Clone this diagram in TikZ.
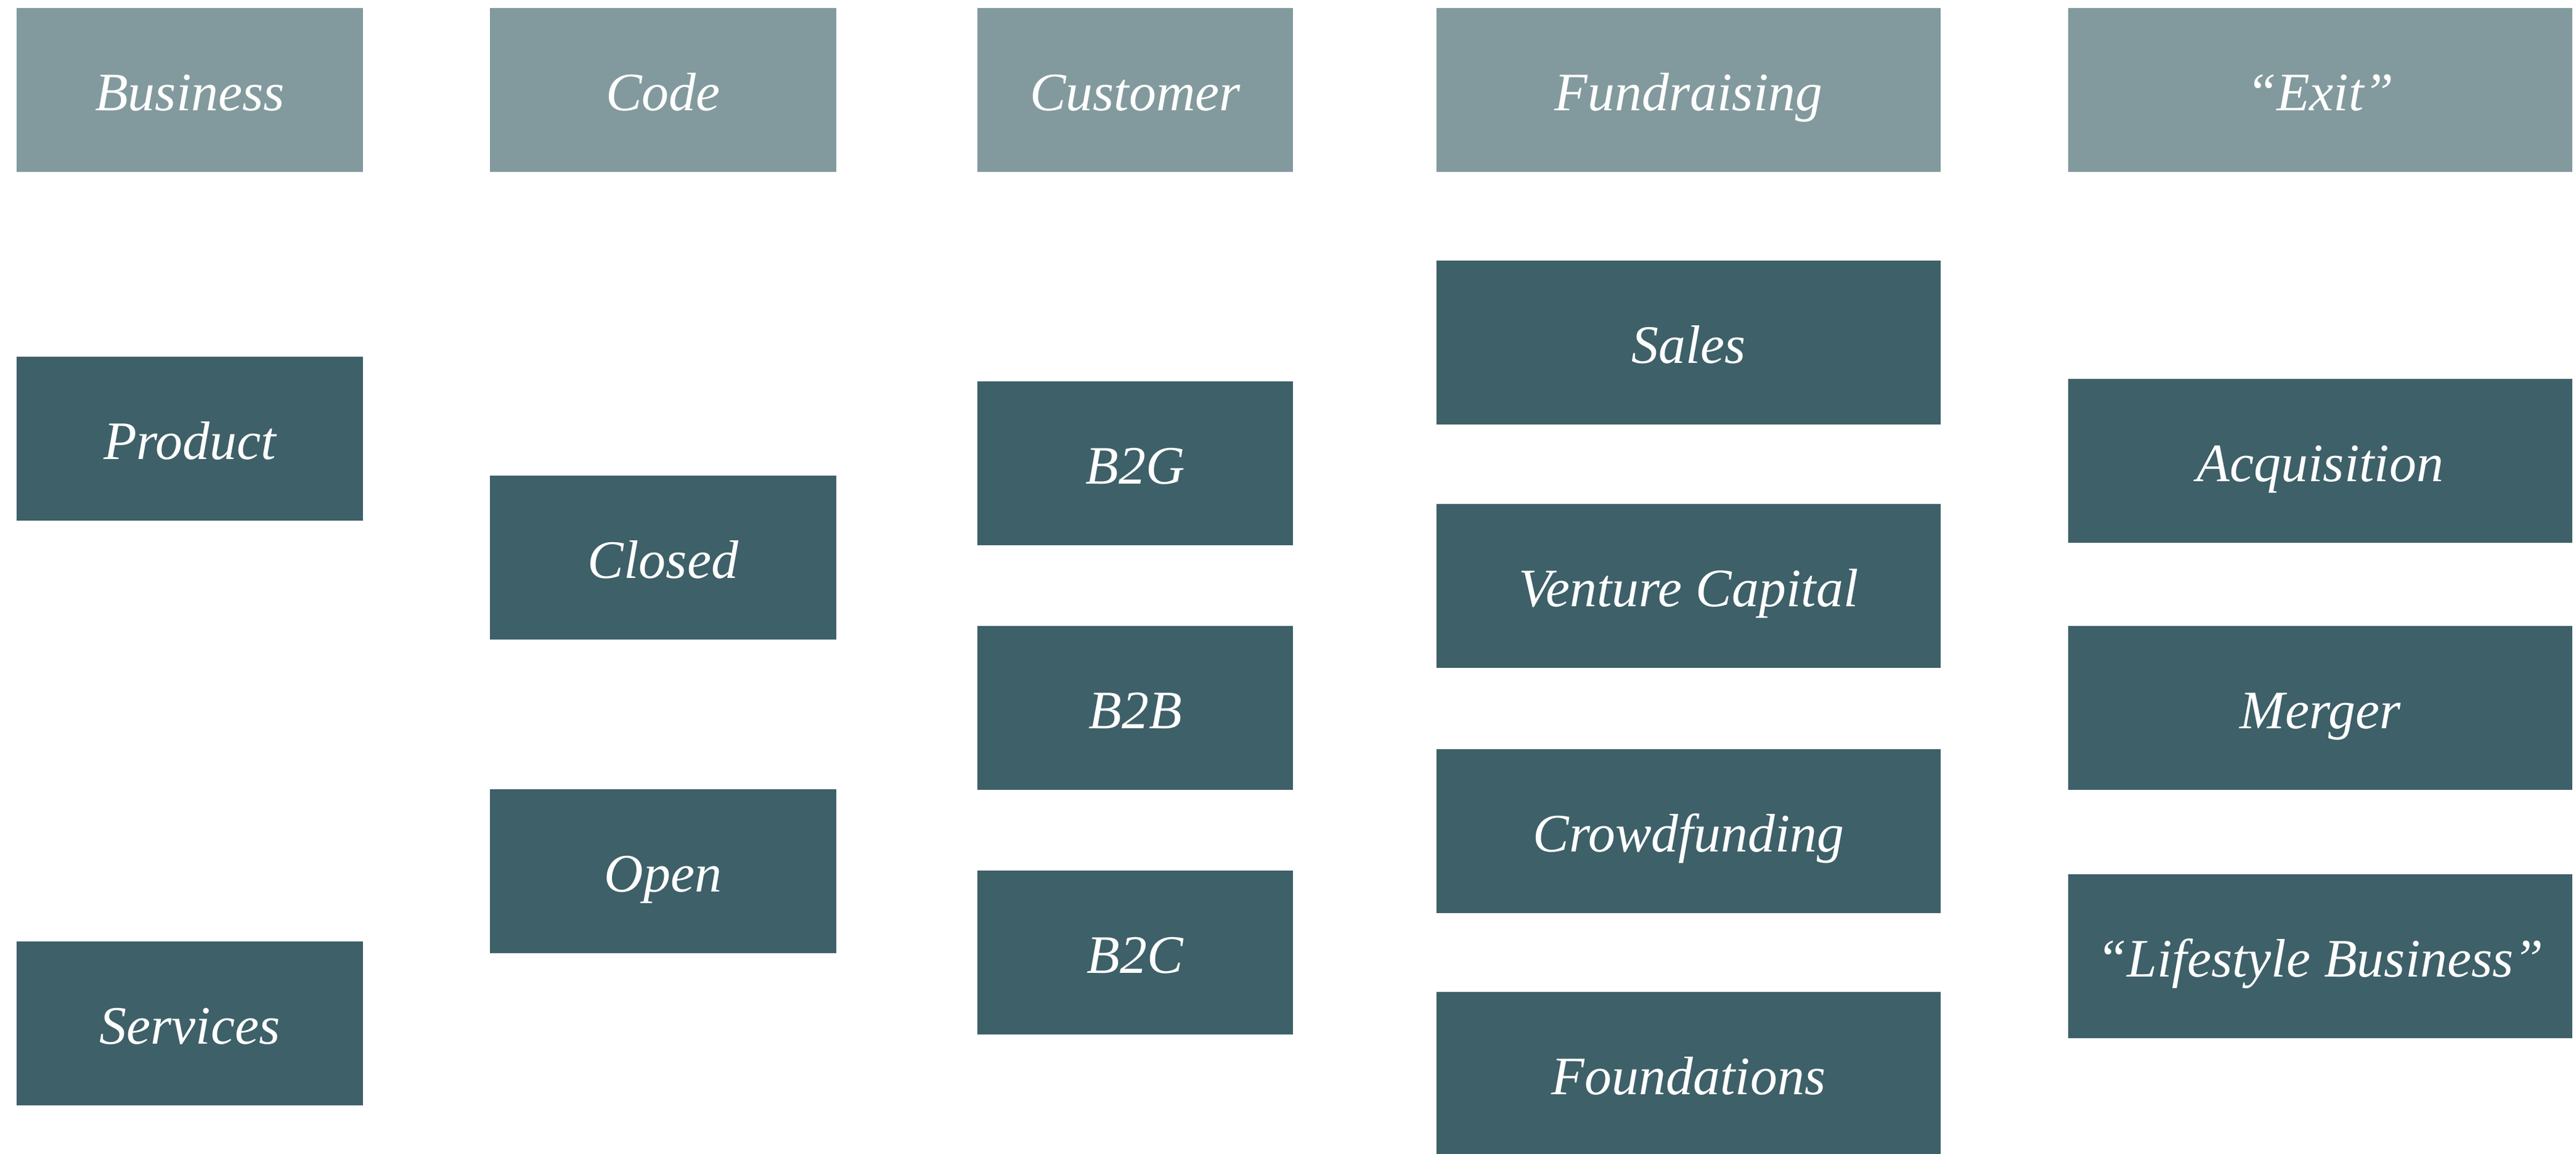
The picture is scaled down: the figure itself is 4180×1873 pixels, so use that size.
\documentclass[tikz,border=0pt]{standalone}
\usepackage{fontspec}
\setmainfont{Liberation Serif}
\definecolor{headgray}{RGB}{130, 154, 157}
\definecolor{itemteal}{RGB}{62, 96, 104}
\usetikzlibrary{positioning}
\tikzset{
  cell/.style={fill=#1, text=white, minimum height=2.66cm, inner sep=0pt, outer sep=0pt,
    text height=19pt, text depth=0pt, font=\fontsize{25}{30}\selectfont\itshape},
  head/.style={cell=headgray},
  item/.style={cell=itemteal},
  narrow/.style={minimum width=5.62cm},
  mid/.style={minimum width=5.11cm},
  wide/.style={minimum width=8.18cm},
}

\begin{document}
\begin{tikzpicture}[x=0.01cm, y=-0.01cm]
  \useasboundingbox (0,0) rectangle (4180,1873);
  % header row
  \node[head, narrow] (business) at (308,146) {Business};
  \node[head, narrow] (code) at (1076,146) {Code};
  \node[head, mid] (customer) at (1842,146) {Customer};
  \node[head, wide] (fundraising) at (2740,146) {Fundraising};
  \node[head, wide] (exit) at (3765,146) {``Exit''};
  % business
  \node[item, narrow] (product) at (308,712) {Product};
  \node[item, narrow] (services) at (308,1661) {Services};
  % code
  \node[item, narrow] (closed) at (1076,905) {Closed};
  \node[item, narrow] (open) at (1076,1414) {Open};
  % customer
  \node[item, mid] (btog) at (1842,752) {B2G};
  \node[item, mid] (btob) at (1842,1149) {B2B};
  \node[item, mid] (btoc) at (1842,1546) {B2C};
  % fundraising
  \node[item, wide] (sales) at (2740,556) {Sales};
  \node[item, wide] (vc) at (2740,951) {Venture Capital};
  \node[item, wide] (crowd) at (2740,1349) {Crowdfunding};
  \node[item, wide] (found) at (2740,1743) {Foundations};
  % exit
  \node[item, wide] (acq) at (3765,748) {Acquisition};
  \node[item, wide] (merger) at (3765,1149) {Merger};
  \node[item, wide] (lifestyle) at (3765,1552) {``Lifestyle Business''};
\end{tikzpicture}
\end{document}
